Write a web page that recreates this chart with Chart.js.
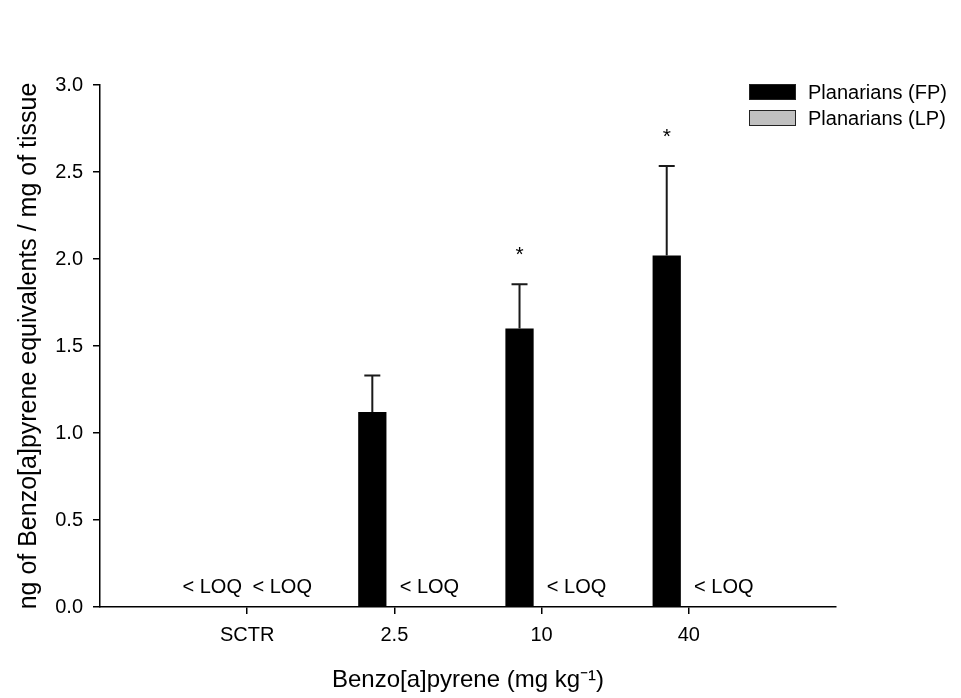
<!DOCTYPE html>
<html>
<head>
<meta charset="utf-8">
<script src="https://cdn.jsdelivr.net/npm/chart.js@4.4.1/dist/chart.umd.min.js"></script>
<style>
	body { margin: 0; background: #fff; font-family: "Liberation Sans", Arial, sans-serif; }
	#wrap { position: relative; width: 961px; height: 698px; }
	#legend { position: absolute; left: 749px; top: 79px; font-size: 20px; color: #000; }
	#legend .row { height: 26px; display: flex; align-items: center; }
	#legend .box { width: 45px; height: 14px; border: 1px solid #222; margin-right: 12px; }
</style>
</head>
<body>
<div id="wrap">
	<canvas id="mycanvas" width="961" height="698"></canvas>
	<div id="legend"></div>
</div>
<script>
// doses (x categories)
var doses = ["SCTR", "2.5", "10", "40"];
// mean and SD, null = below limit of quantification
var fpMean = [null, 1.12, 1.60, 2.02];
var fpErr = [null, 0.21, 0.255, 0.515];
var lpMean = [null, null, null, null];
// significant vs control
var sig = [false, false, true, true];
var yTicks = [0, 0.5, 1.0, 1.5, 2.0, 2.5, 3.0];

var fontFam = '"Liberation Sans", Arial, sans-serif';
Chart.defaults.color = "#000";
Chart.defaults.font.family = fontFam;

function toPoints(arr) {
	return arr.map(function(v, i) { return { x: i + 1, y: v }; });
}

var barExtras = {
	id: "barExtras",
	afterDatasetsDraw: function(chart) {
		var ctx = chart.ctx;
		var xs = chart.scales.x;
		var ys = chart.scales.y;
		var meta = chart.getDatasetMeta(0);
		ctx.save();
		ctx.strokeStyle = "#1a1a1a";
		ctx.lineWidth = 2;
		ctx.fillStyle = "#000";
		ctx.textAlign = "center";
		for (var i = 0; i < doses.length; i++) {
			if (fpMean[i] == null) continue;
			var bar = meta.data[i];
			var top = ys.getPixelForValue(fpMean[i] + fpErr[i]);
			ctx.beginPath();
			ctx.moveTo(bar.x, bar.y);
			ctx.lineTo(bar.x, top);
			ctx.moveTo(bar.x - 8, top);
			ctx.lineTo(bar.x + 8, top);
			ctx.stroke();
			if (sig[i]) {
				ctx.font = "21px " + fontFam;
				ctx.textBaseline = "alphabetic";
				ctx.fillText("*", bar.x, top - 34 + 11);
			}
		}
		// < LOQ labels
		ctx.font = "20px " + fontFam;
		ctx.textBaseline = "alphabetic";
		var base = ys.getPixelForValue(0) - 14;
		var series = [fpMean, lpMean];
		for (var i = 0; i < doses.length; i++) {
			for (var d = 0; d < series.length; d++) {
				if (series[d][i] != null) continue;
				var cx = xs.getPixelForValue(i + 1) + (d == 0 ? -35 : 35);
				ctx.fillText("< LOQ", cx, base);
			}
		}
		ctx.restore();
	}
};

var chartdata = {
	datasets: [
		{
			label: "Planarians (FP)",
			backgroundColor: "#000",
			borderColor: "#000",
			borderWidth: 0,
			data: toPoints(fpMean)
		},
		{
			label: "Planarians (LP)",
			backgroundColor: "#c0c0c0",
			borderColor: "#222",
			borderWidth: 1,
			data: toPoints(lpMean)
		}
	]
};

var ctx = document.getElementById("mycanvas");
var BarGraph = new Chart(ctx, {
	type: "bar",
	data: chartdata,
	options: {
		responsive: false,
		animation: false,
		devicePixelRatio: 1,
		categoryPercentage: 0.6,
		barPercentage: 0.64,
		layout: { padding: { left: 0, right: 125, top: 85, bottom: 3 } },
		plugins: { legend: { display: false }, tooltip: { enabled: false } },
		scales: {
			x: {
				type: "linear",
				min: 0,
				max: 5,
				offset: false,
				afterBuildTicks: function(s) {
					s.ticks = doses.map(function(d, i) { return { value: i + 1 }; });
				},
				afterFit: function(s) { s.height = 88; },
				ticks: {
					font: { size: 20 },
					padding: 9,
					maxRotation: 0,
					callback: function(v) { return doses[v - 1]; }
				},
				grid: { offset: false, drawOnChartArea: false, tickLength: 7, color: "#000", lineWidth: 1.5 },
				border: { color: "#000", width: 1.5 },
				title: {
					display: true,
					text: "Benzo[a]pyrene (mg kg\u207B\u00B9)",
					font: { size: 24 },
					padding: { top: 0, bottom: 0 }
				}
			},
			y: {
				min: 0,
				max: 3,
				afterBuildTicks: function(s) {
					s.ticks = yTicks.map(function(v) { return { value: v }; });
				},
				afterFit: function(s) { s.width = 100; },
				ticks: {
					font: { size: 20 },
					padding: 10,
					callback: function(v) { return v.toFixed(1); }
				},
				grid: { drawOnChartArea: false, tickLength: 7, color: "#000", lineWidth: 1.5 },
				border: { color: "#000", width: 1.5 },
				title: {
					display: true,
					text: "ng of Benzo[a]pyrene equivalents / mg of tissue",
					font: { size: 25 },
					padding: { top: 14, bottom: 0 }
				}
			}
		}
	},
	plugins: [barExtras]
});

// html legend from the datasets
var leg = document.getElementById("legend");
BarGraph.data.datasets.forEach(function(ds) {
	var row = document.createElement("div");
	row.className = "row";
	var box = document.createElement("span");
	box.className = "box";
	box.style.background = ds.backgroundColor;
	var txt = document.createElement("span");
	txt.textContent = ds.label;
	row.appendChild(box);
	row.appendChild(txt);
	leg.appendChild(row);
});
</script>
</body>
</html>
